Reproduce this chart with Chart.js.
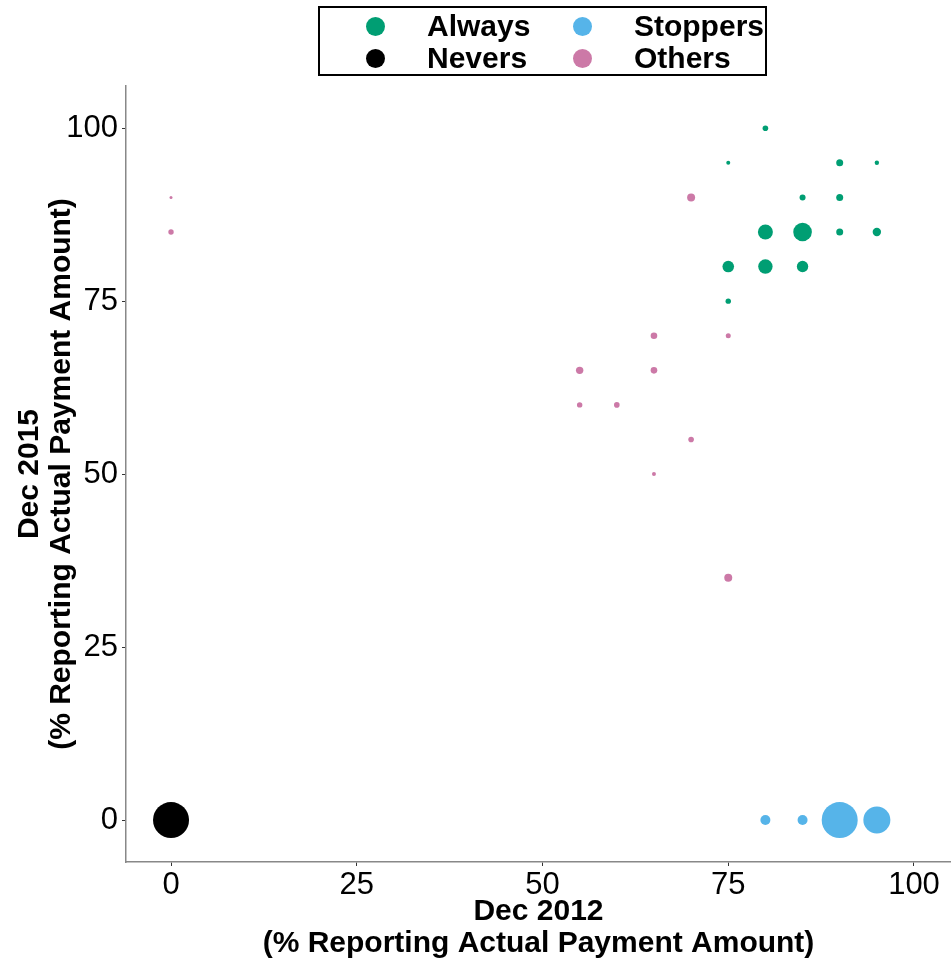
<!DOCTYPE html>
<html>
<head>
<meta charset="utf-8">
<script src="https://cdn.jsdelivr.net/npm/chart.js@4.4.1/dist/chart.umd.min.js"></script>
<style>
  html, body { margin: 0; padding: 0; background: #fff; }
  #wrap { position: relative; width: 951px; height: 960px; }
  #legend {
    position: absolute; left: 318px; top: 6px; width: 449px; height: 70px;
    border: 2px solid #000; display: grid; box-sizing: border-box;
    grid-template-columns: 207px 207px; grid-auto-rows: 32px;
    padding: 2px 0 0 30px;
    font-family: "Liberation Sans", Arial, sans-serif; font-weight: bold; font-size: 30px;
  }
  #legend .item { display: flex; align-items: center; }
  #legend .dot { width: 19px; height: 19px; border-radius: 50%; margin: 0 42px 0 16px; }
</style>
</head>
<body>
<div id="wrap">
  <canvas id="chart" width="951" height="960"></canvas>
  <div id="legend"></div>
</div>
<script>
// series
const groups = ["Always", "Stoppers", "Nevers", "Others"];
const colors = ["#009E73", "#56B4E9", "#000000", "#CC79A7"];

// x = Dec 2012 %, y = Dec 2015 %, r = bubble radius
const alwaysX = [80, 75, 90, 95, 85, 90, 80, 85, 90, 95, 75, 80, 85, 75];
const alwaysY = [100, 95, 95, 95, 90, 90, 85, 85, 85, 85, 80, 80, 80, 75];
const alwaysR = [2.8, 2, 3.5, 2.2, 3, 3.5, 7.5, 9.3, 3.5, 4.2, 5.8, 7.2, 5.7, 2.7];

const stoppersX = [80, 85, 90, 95];
const stoppersY = [0, 0, 0, 0];
const stoppersR = [5, 5, 18, 13.5];

const neversX = [0];
const neversY = [0];
const neversR = [18];

const othersX = [0, 0, 70, 65, 75, 55, 65, 55, 60, 70, 65, 75];
const othersY = [90, 85, 90, 70, 70, 65, 65, 60, 60, 55, 50, 35];
const othersR = [1.5, 2.7, 4, 3.3, 2.5, 3.7, 3.3, 2.7, 2.8, 2.8, 2, 4];

const xTicks = [0, 25, 50, 75, 100];
const yTicks = [0, 25, 50, 75, 100];

function pts(xs, ys, rs) {
  return xs.map((x, i) => ({ x: x, y: ys[i], r: rs[i] }));
}

const series = [
  pts(alwaysX, alwaysY, alwaysR),
  pts(stoppersX, stoppersY, stoppersR),
  pts(neversX, neversY, neversR),
  pts(othersX, othersY, othersR)
];

// legend: two columns, Always/Nevers then Stoppers/Others
const legend = document.getElementById("legend");
groups.forEach((g, i) => {
  const item = document.createElement("div");
  item.className = "item";
  item.innerHTML = '<span class="dot" style="background:' + colors[i] + '"></span><span>' + g + '</span>';
  legend.appendChild(item);
});

const tickFont = { family: "'Liberation Sans', Arial, sans-serif", size: 31 };
const titleFont = { family: "'Liberation Sans', Arial, sans-serif", size: 30, weight: "bold", lineHeight: 1.07 };

new Chart(document.getElementById("chart"), {
  type: "bubble",
  data: {
    datasets: groups.map((g, i) => ({
      label: g,
      data: series[i],
      backgroundColor: colors[i],
      borderWidth: 0,
      hoverRadius: 0,
      clip: false
    }))
  },
  options: {
    responsive: false,
    animation: false,
    layout: { autoPadding: false, padding: { top: 86, left: 0, right: 0, bottom: 0 } },
    plugins: {
      legend: { display: false },
      tooltip: { enabled: false }
    },
    scales: {
      x: {
        type: "linear",
        min: -6.06,
        max: 104.98,
        afterBuildTicks: s => { s.ticks = xTicks.map(v => ({ value: v })); },
        afterFit: s => { s.height = 98; s.paddingLeft = 0; s.paddingRight = 0; },
        grid: { drawOnChartArea: false, drawTicks: true, tickLength: 4, color: "#333" },
        border: { display: true, color: "#888", width: 1.5 },
        ticks: { color: "#000", font: tickFont, padding: 1, maxRotation: 0 },
        title: {
          display: true,
          text: ["Dec 2012", "(% Reporting Actual Payment Amount)"],
          color: "#000",
          font: titleFont,
          padding: { top: 0, bottom: 0 }
        }
      },
      y: {
        type: "linear",
        min: -6.07,
        max: 106.1,
        afterBuildTicks: s => { s.ticks = yTicks.map(v => ({ value: v })); },
        afterFit: s => { s.width = 126; s.paddingTop = 0; s.paddingBottom = 0; },
        grid: { drawOnChartArea: false, drawTicks: true, tickLength: 4, color: "#333" },
        border: { display: true, color: "#888", width: 1.5 },
        ticks: { color: "#000", font: tickFont, padding: 4 },
        title: {
          display: true,
          text: ["Dec 2015", "(% Reporting Actual Payment Amount)"],
          color: "#000",
          font: titleFont,
          padding: { top: 14, bottom: 0 }
        }
      }
    }
  }
});
</script>
</body>
</html>
